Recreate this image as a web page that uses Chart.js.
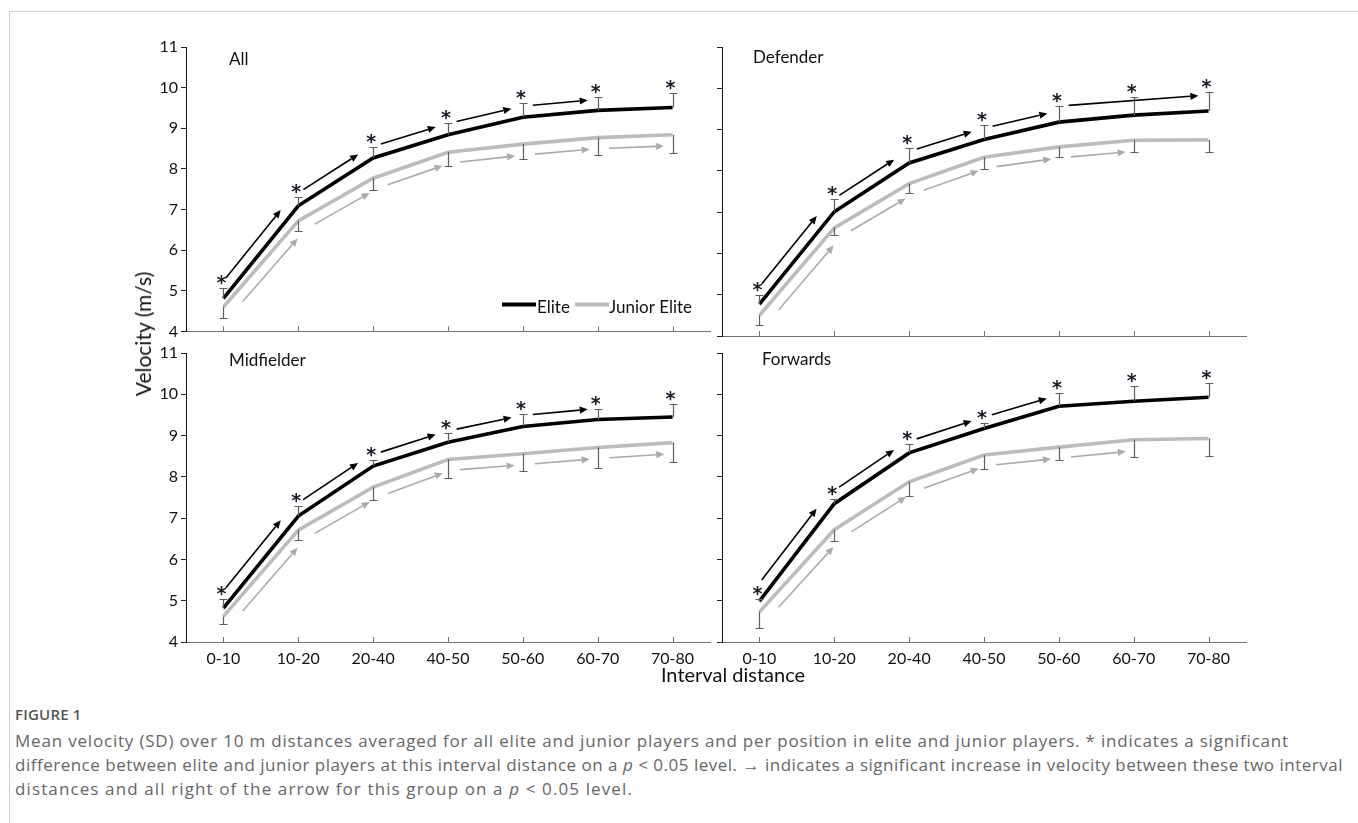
<!DOCTYPE html>
<html>
<head>
<meta charset="utf-8">
<script src="https://cdn.jsdelivr.net/npm/chart.js@4.4.0/dist/chart.umd.min.js"></script>
<style>
  html, body { margin: 0; padding: 0; background: #fff; }
  body { width: 1358px; height: 823px; overflow: hidden; position: relative; font-family: Lato, "Open Sans", sans-serif; }
  .frame { position: absolute; left: 9px; top: 11px; width: 1400px; height: 900px; border-left: 1px solid #cfcfcf; border-top: 1px solid #cfcfcf; }
  canvas { position: absolute; }
  .ptitle { position: absolute; font: 17px/16px Lato, sans-serif; color: #111; white-space: nowrap; }
  .ylab { position: absolute; left: 143px; top: 334px; transform: translate(-50%, -50%) rotate(-90deg); font: 21px/22px Lato, sans-serif; color: #111; white-space: nowrap; }
  .xlab { position: absolute; left: 733px; top: 674px; transform: translate(-50%, -50%); font: 20px/22px Lato, sans-serif; color: #111; white-space: nowrap; }
  .fig { position: absolute; left: 15px; top: 704px; font: 600 15px/20px "Open Sans", sans-serif; color: #555; letter-spacing: 0.2px; }
  .cap { position: absolute; left: 15px; top: 729px; font: 17px/24px "Open Sans", sans-serif; color: #666; white-space: nowrap; }
  .cap span { display: block; white-space: nowrap; }
</style>
</head>
<body>
<div class="frame"></div>
<canvas id="cTL" width="600" height="322" style="left:126px;top:22px"></canvas>
<canvas id="cTR" width="600" height="322" style="left:662px;top:22px"></canvas>
<canvas id="cBL" width="600" height="354" style="left:126px;top:328px"></canvas>
<canvas id="cBR" width="600" height="354" style="left:662px;top:328px"></canvas>
<div class="ptitle" style="left:229px;top:51px">All</div>
<div class="ptitle" style="left:753px;top:49px">Defender</div>
<div class="ptitle" style="left:229px;top:352px">Midfielder</div>
<div class="ptitle" style="left:762px;top:351px">Forwards</div>
<div class="ylab">Velocity (m/s)</div>
<div class="xlab">Interval distance</div>
<div class="fig">FIGURE 1</div>
<div class="cap">
<span data-w="1274">Mean velocity (SD) over 10 m distances averaged for all elite and junior players and per position in elite and junior players. * indicates a significant</span>
<span data-w="1328">difference between elite and junior players at this interval distance on a <i>p</i> &lt; 0.05 level. → indicates a significant increase in velocity between these two interval</span>
<span data-w="618">distances and all right of the arrow for this group on a <i>p</i> &lt; 0.05 level.</span>
</div>
<script>
// ---------- data ----------
const categories = ['0-10', '10-20', '20-40', '40-50', '50-60', '60-70', '70-80'];
const yMin = 4, yMax = 11, yStep = 1;
const seriesLabels = ['Elite', 'Junior Elite'];

// All
const allElite      = [4.81, 7.09, 8.27, 8.84, 9.27, 9.44, 9.51];
const allEliteSD    = [0.25, 0.23, 0.27, 0.28, 0.36, 0.34, 0.37];
const allJunior     = [4.60, 6.72, 7.77, 8.41, 8.61, 8.77, 8.84];
const allJuniorSD   = [0.28, 0.24, 0.29, 0.35, 0.36, 0.43, 0.44];
const allEliteArrows  = [[0,1],[1,2],[2,3],[3,4],[4,5]];
const allJuniorArrows = [[0,1],[1,2],[2,3],[3,4],[4,5],[5,6]];
const allStars = [0,1,2,3,4,5,6];

// Defender
const defElite      = [4.77, 7.01, 8.19, 8.76, 9.18, 9.35, 9.45];
const defEliteSD    = [0.23, 0.31, 0.37, 0.34, 0.40, 0.43, 0.45];
const defJunior     = [4.50, 6.62, 7.69, 8.33, 8.58, 8.74, 8.75];
const defJuniorSD   = [0.24, 0.18, 0.22, 0.28, 0.24, 0.29, 0.30];
const defEliteArrows  = [[0,1],[1,2],[2,3],[3,4],[4,6]];
const defJuniorArrows = [[0,1],[1,2],[2,3],[3,4],[4,5]];
const defStars = [0,1,2,3,4,5,6];

// Midfielder
const midElite      = [4.82, 7.05, 8.26, 8.84, 9.22, 9.39, 9.45];
const midEliteSD    = [0.21, 0.24, 0.16, 0.23, 0.30, 0.25, 0.32];
const midJunior     = [4.62, 6.71, 7.75, 8.42, 8.56, 8.71, 8.83];
const midJuniorSD   = [0.19, 0.23, 0.32, 0.44, 0.43, 0.49, 0.48];
const midEliteArrows  = [[0,1],[1,2],[2,3],[3,4],[4,5]];
const midJuniorArrows = [[0,1],[1,2],[2,3],[3,4],[4,5],[5,6]];
const midStars = [0,1,2,3,4,5,6];

// Forwards
const fwdElite      = [4.99, 7.35, 8.58, 9.17, 9.71, 9.83, 9.93];
const fwdEliteSD    = [0.05, 0.11, 0.21, 0.14, 0.31, 0.36, 0.35];
const fwdJunior     = [4.73, 6.72, 7.88, 8.53, 8.72, 8.90, 8.93];
const fwdJuniorSD   = [0.38, 0.28, 0.34, 0.33, 0.32, 0.42, 0.43];
const fwdEliteArrows  = [[0,1],[1,2],[2,3],[3,4]];
const fwdJuniorArrows = [[0,1],[1,2],[2,3],[3,4],[4,5]];
const fwdStars = [0,1,2,3,4,5,6];

// ---------- styles ----------
const ELITE_COLOR = '#000000';
const JUNIOR_COLOR = '#bcbcbc';
const ERR_COLOR = '#5e5e5e';
const ARROW_BLACK = '#000000';
const ARROW_GRAY = '#ababab';
const FONT = 'Lato, sans-serif';

// fit caption lines to their measured widths in the reference
document.querySelectorAll('.cap span').forEach(s => {
  const target = +s.dataset.w;
  s.style.display = 'inline-block';
  const w = s.getBoundingClientRect().width;
  const n = s.textContent.length;
  s.style.letterSpacing = ((target - w) / n).toFixed(3) + 'px';
  s.style.display = 'block';
});

// ---------- plugin for error bars, arrows, stars, legend, inner x ticks ----------
const marksPlugin = {
  id: 'marks',
  afterDatasetsDraw(chart, args, opts) {
    const { ctx, chartArea, scales: { x, y } } = chart;
    const elite = chart.data.datasets[0].data;
    const junior = chart.data.datasets[1].data;
    ctx.save();

    // inner x tick marks
    ctx.strokeStyle = '#6e6e6e';
    ctx.lineWidth = 1;
    categories.forEach((c, i) => {
      const px = Math.round(x.getPixelForValue(i)) + 0.5;
      ctx.beginPath();
      ctx.moveTo(px, chartArea.bottom);
      ctx.lineTo(px, chartArea.bottom - 5);
      ctx.stroke();
    });

    // error bars
    const drawErr = (vals, sds, dir) => {
      ctx.strokeStyle = ERR_COLOR;
      ctx.lineWidth = 1.2;
      vals.forEach((v, i) => {
        const px = Math.round(x.getPixelForValue(i)) + 0.5;
        const p0 = y.getPixelForValue(v);
        const p1 = Math.round(y.getPixelForValue(v + dir * sds[i])) + 0.5;
        ctx.beginPath();
        ctx.moveTo(px, p0); ctx.lineTo(px, p1);
        ctx.moveTo(px - 4, p1); ctx.lineTo(px + 4, p1);
        ctx.stroke();
      });
    };
    drawErr(elite, opts.eliteSD, 1);
    drawErr(junior, opts.juniorSD, -1);

    // arrows
    const drawArrow = (vals, i, j, side, color) => {
      const xi = x.getPixelForValue(i), yi = y.getPixelForValue(vals[i]);
      const xj = x.getPixelForValue(j), yj = y.getPixelForValue(vals[j]);
      const dx = xj - xi, dy = yj - yi;
      const len = Math.hypot(dx, dy);
      const ux = dx / len, uy = dy / len;
      const nx = -uy * side, ny = ux * side;
      const d = 11 + (j - i - 1) * 5;
      const t0 = 11 / dx, t1 = 1 - 9 / dx;
      const sx = xi + dx * t0 + nx * d, sy = yi + dy * t0 + ny * d;
      const ex = xi + dx * t1 + nx * d, ey = yi + dy * t1 + ny * d;
      const hl = 8, hw = 3.6;
      const bx = ex - ux * hl, by = ey - uy * hl;
      ctx.strokeStyle = color;
      ctx.fillStyle = color;
      ctx.lineWidth = 1.6;
      ctx.beginPath();
      ctx.moveTo(sx, sy); ctx.lineTo(bx, by);
      ctx.stroke();
      ctx.beginPath();
      ctx.moveTo(ex, ey);
      ctx.lineTo(bx - uy * hw, by + ux * hw);
      ctx.lineTo(bx + uy * hw, by - ux * hw);
      ctx.closePath();
      ctx.fill();
    };
    opts.eliteArrows.forEach(([i, j]) => drawArrow(elite, i, j, -1, ARROW_BLACK));
    opts.juniorArrows.forEach(([i, j]) => drawArrow(junior, i, j, 1, ARROW_GRAY));

    // stars
    ctx.fillStyle = '#1a1a26';
    ctx.font = 'bold 19px "DejaVu Sans", sans-serif';
    ctx.textAlign = 'center';
    ctx.textBaseline = 'alphabetic';
    opts.stars.forEach(i => {
      const px = x.getPixelForValue(i) - 2;
      const top = y.getPixelForValue(elite[i] + opts.eliteSD[i]);
      ctx.fillText('*', px, top + 1);
    });

    // legend
    if (opts.legend) {
      const ds = chart.data.datasets;
      const ly = chartArea.top + 257.5;
      const tb = chartArea.top + 266;
      ctx.font = '17px ' + FONT;
      ctx.textAlign = 'left';
      ctx.fillStyle = '#111';
      const items = [
        { x0: chartArea.left + 316, x1: chartArea.left + 350, tx: chartArea.left + 351 },
        { x0: chartArea.left + 389, x1: chartArea.left + 423, tx: chartArea.left + 423 }
      ];
      items.forEach((it, k) => {
        ctx.strokeStyle = ds[k].borderColor;
        ctx.lineWidth = 4;
        ctx.beginPath();
        ctx.moveTo(it.x0, ly); ctx.lineTo(it.x1, ly);
        ctx.stroke();
        ctx.fillText(ds[k].label, it.tx, tb);
      });
    }
    ctx.restore();
  }
};

function makePanel(id, elite, eliteSD, junior, juniorSD, eArrows, jArrows, stars, showX, showY, legend) {
  new Chart(document.getElementById(id), {
    type: 'line',
    data: {
      labels: categories,
      datasets: [
        { label: seriesLabels[0], data: elite, borderColor: ELITE_COLOR, borderWidth: 3.6, pointRadius: 0, tension: 0, fill: false },
        { label: seriesLabels[1], data: junior, borderColor: JUNIOR_COLOR, borderWidth: 3.6, pointRadius: 0, tension: 0, fill: false }
      ]
    },
    options: {
      responsive: false,
      animation: false,
      events: [],
      layout: { padding: { left: 0, right: 16, top: 25, bottom: 0 } },
      plugins: {
        legend: { display: false },
        tooltip: { enabled: false },
        marks: { eliteSD, juniorSD, eliteArrows: eArrows, juniorArrows: jArrows, stars, legend }
      },
      scales: {
        x: {
          type: 'category',
          offset: true,
          grid: { display: true, drawOnChartArea: false, drawTicks: false, offset: false, color: 'rgba(0,0,0,0)' },
          border: { display: true, color: '#707070', width: 1 },
          ticks: { display: showX, color: '#111', font: { family: FONT, size: 16 }, padding: 7, maxRotation: 0, autoSkip: false },
          afterFit: s => { s.height = showX ? 40 : 8; }
        },
        y: {
          min: yMin, max: yMax,
          grid: { display: true, drawOnChartArea: false, drawTicks: true, tickLength: 5, color: '#222' },
          border: { display: true, color: '#111', width: 1 },
          ticks: { display: showY, stepSize: yStep, color: '#111', font: { family: FONT, size: 16 }, padding: 3 },
          afterFit: s => { s.width = 60; }
        }
      }
    },
    plugins: [marksPlugin]
  });
}

makePanel('cTL', allElite, allEliteSD, allJunior, allJuniorSD, allEliteArrows, allJuniorArrows, allStars, false, true, true);
makePanel('cTR', defElite, defEliteSD, defJunior, defJuniorSD, defEliteArrows, defJuniorArrows, defStars, false, false, false);
makePanel('cBL', midElite, midEliteSD, midJunior, midJuniorSD, midEliteArrows, midJuniorArrows, midStars, true, true, false);
makePanel('cBR', fwdElite, fwdEliteSD, fwdJunior, fwdJuniorSD, fwdEliteArrows, fwdJuniorArrows, fwdStars, true, false, false);
</script>
</body>
</html>
